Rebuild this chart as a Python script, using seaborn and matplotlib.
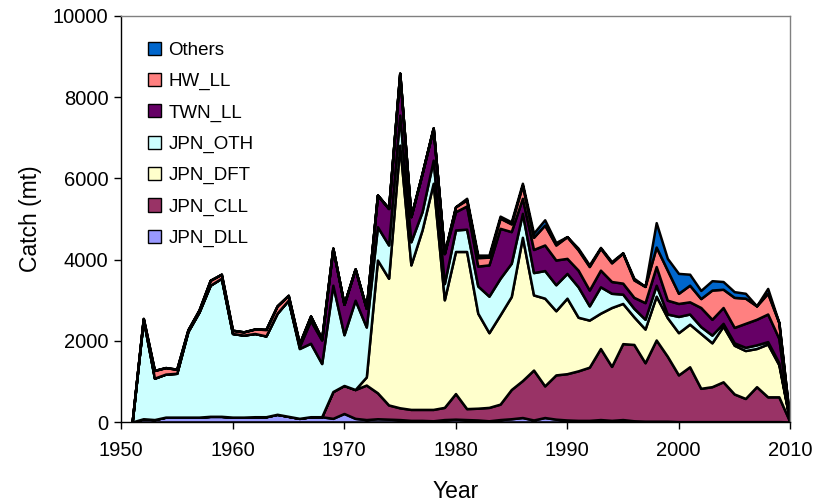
import numpy as np
import pandas as pd
import matplotlib
matplotlib.use("Agg")
import matplotlib.pyplot as plt
import seaborn as sns
from matplotlib.patches import Patch

years = list(range(1951, 2011))

jpn_dll = [0, 80, 60, 120, 120, 120, 120, 140, 140, 120,
           120, 130, 130, 190, 140, 90, 130, 130, 90, 210,
           90, 60, 80, 70, 60, 40, 40, 30, 60, 70,
           60, 50, 30, 60, 80, 110, 50, 110, 70, 50,
           40, 40, 60, 40, 60, 30, 20, 20, 20, 10,
           10, 10, 10, 10, 10, 10, 10, 10, 10, 0]
jpn_cll = [0, 0, 0, 0, 0, 0, 0, 0, 0, 0,
           0, 0, 0, 0, 0, 0, 0, 0, 660, 690,
           710, 850, 640, 350, 290, 270, 270, 280, 300, 630,
           270, 290, 330, 380, 720, 910, 1230, 780, 1090, 1140,
           1220, 1310, 1750, 1330, 1870, 1880, 1440, 2000, 1600, 1150,
           1350, 820, 860, 980, 680, 570, 860, 610, 610, 0]
jpn_dft = [0, 0, 0, 0, 0, 0, 0, 0, 0, 0,
           0, 0, 0, 0, 0, 0, 0, 0, 0, 0,
           0, 200, 3270, 3120, 6470, 3560, 4420, 5570, 2650, 3500,
           3870, 2340, 1840, 2200, 2290, 3530, 1850, 2160, 1580, 1860,
           1320, 1160, 870, 1450, 990, 680, 830, 1080, 950, 1040,
           1050, 1350, 1080, 1370, 1200, 1180, 940, 1300, 790, 0]
jpn_oth = [0, 2450, 1020, 1060, 1080, 2110, 2590, 3230, 3400, 2060,
           2020, 2050, 1990, 2490, 2860, 1720, 1810, 1310, 2620, 1250,
           2200, 1230, 820, 820, 740, 570, 450, 570, 400, 530,
           550, 670, 900, 900, 820, 590, 550, 680, 640, 610,
           750, 350, 650, 350, 230, 210, 240, 270, 90, 400,
           250, 170, 190, 70, 60, 80, 90, 60, 50, 0]
twn_ll = [0, 0, 0, 0, 0, 0, 0, 0, 0, 0,
          0, 0, 0, 0, 0, 50, 560, 580, 910, 750,
          770, 460, 780, 900, 1030, 620, 940, 790, 740, 450,
          570, 490, 770, 1230, 780, 370, 570, 630, 610, 370,
          410, 390, 410, 290, 270, 270, 410, 460, 340, 320,
          300, 470, 390, 390, 380, 590, 630, 680, 600, 0]
hw_ll = [0, 20, 190, 160, 100, 40, 50, 120, 100, 80,
         80, 110, 160, 180, 120, 70, 110, 30, 0, 0,
         0, 0, 0, 0, 0, 0, 0, 0, 0, 120,
         150, 210, 190, 250, 190, 320, 300, 490, 370, 535,
         500, 580, 540, 460, 740, 430, 400, 480, 740, 250,
         410, 220, 720, 450, 740, 620, 330, 510, 390, 0]
others = [0, 0, 0, 0, 0, 0, 0, 0, 0, 0,
          0, 0, 0, 0, 0, 0, 0, 0, 0, 0,
          0, 0, 0, 0, 0, 0, 0, 0, 0, 0,
          40, 60, 50, 50, 50, 50, 100, 130, 60, 0,
          40, 40, 20, 30, 10, 40, 0, 600, 290, 490,
          270, 200, 230, 190, 140, 120, 0, 120, 0, 0]

series_names = ["JPN_DLL", "JPN_CLL", "JPN_DFT", "JPN_OTH", "TWN_LL", "HW_LL", "Others"]
series_vals = [jpn_dll, jpn_cll, jpn_dft, jpn_oth, twn_ll, hw_ll, others]
colors = ["#9999FF", "#993366", "#FFFFCC", "#CCFFFF", "#660066", "#FF8080", "#0066CC"]

df = pd.DataFrame({"Year": years})
for n, v in zip(series_names, series_vals):
    df[n] = v

sns.set_theme(style="white")
plt.rcParams["font.family"] = ["Liberation Sans", "DejaVu Sans"]
plt.rcParams["text.color"] = "black"
plt.rcParams["axes.labelcolor"] = "black"
plt.rcParams["xtick.color"] = "black"
plt.rcParams["ytick.color"] = "black"

fig = plt.figure(figsize=(8.16, 5.04), dpi=100)
ax = fig.add_axes([121/816, 1 - 422/504, (790-121)/816, (422-16)/504])

ax.stackplot(df["Year"], [df[n] for n in series_names], colors=colors,
             edgecolor="black", linewidth=1.8)

ax.set_xlim(1950, 2010)
ax.set_ylim(0, 10000)
ax.set_xticks(range(1950, 2011, 10))
ax.set_yticks(range(0, 10001, 2000))
ax.tick_params(axis="both", direction="out", length=5, width=1, color="black",
               labelcolor="black", labelsize=14.5, left=True, bottom=True)
ax.tick_params(axis="x", pad=9)
ax.tick_params(axis="y", pad=4)
for s in ["left", "bottom"]:
    ax.spines[s].set_color("black")
    ax.spines[s].set_linewidth(1)
for s in ["top", "right"]:
    ax.spines[s].set_color("#808080")
    ax.spines[s].set_linewidth(1)

ax.set_xlabel("Year", fontsize=16.5, labelpad=14, color="black")
ax.set_ylabel("Catch (mt)", fontsize=16.5, labelpad=8, color="black")

handles = [Patch(facecolor=c, edgecolor="black", linewidth=1) for c in colors][::-1]
labels = series_names[::-1]
leg = ax.legend(handles, labels, loc="upper left", bbox_to_anchor=(0.015, 0.978),
                frameon=False, fontsize=13.5, labelspacing=0.75,
                handlelength=0.7, handleheight=0.7, handletextpad=0.4,
                labelcolor="black")

fig.savefig("out.png", dpi=100)
